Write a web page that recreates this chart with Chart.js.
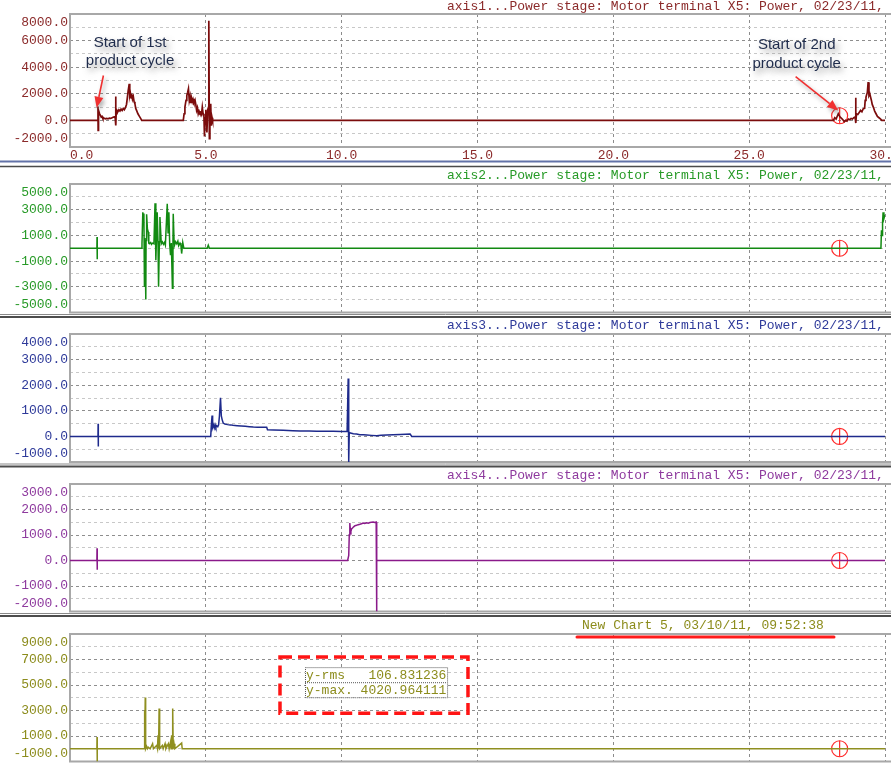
<!DOCTYPE html>
<html><head><meta charset="utf-8">
<script src="https://cdn.jsdelivr.net/npm/chart.js@4/dist/chart.umd.min.js"></script>
<style>
html,body{margin:0;padding:0;background:#fff;width:891px;height:764px;overflow:hidden;}
canvas{position:absolute;left:0;}
</style></head><body>
<canvas id="c1" width="891" height="170" style="top:0px"></canvas>
<canvas id="c2" width="891" height="148" style="top:170px"></canvas>
<canvas id="c3" width="891" height="150" style="top:318px"></canvas>
<canvas id="c4" width="891" height="150" style="top:468px"></canvas>
<canvas id="c5" width="891" height="146" style="top:618px"></canvas>
<script>
// ---------------- data ----------------
const xTickValues = [0, 5, 10, 15, 20, 25, 30];
const cursorTime = [28.33];

const axis1Samples = [[0,0],[1.02,0],[1.03,1050],[1.035,-750],[1.04,0],[1.06,750],[1.09,500],[1.12,375],[1.15,250],[1.18,300],[1.21,150],[1.25,175],[1.3,125],[1.35,150],[1.4,125],[1.45,175],[1.5,150],[1.55,200],[1.6,250],[1.66,275],[1.68,1800],[1.69,-375],[1.7,500],[1.73,750],[1.76,650],[1.8,800],[1.84,700],[1.88,850],[1.92,750],[1.96,900],[2.0,800],[2.04,950],[2.08,1200],[2.11,1700],[2.14,2200],[2.18,2750],[2.2,1900],[2.22,2100],[2.25,1700],[2.27,2000],[2.3,1600],[2.33,1800],[2.36,1400],[2.39,1250],[2.42,900],[2.45,750],[2.5,500],[2.55,325],[2.6,150],[2.64,0],
 [4.17,0],[4.2,500],[4.23,1000],[4.27,1500],[4.3,1875],[4.33,2100],[4.36,2375],[4.39,1500],[4.42,1800],[4.44,1300],[4.47,1700],[4.5,1400],[4.53,1600],[4.56,1375],[4.6,1550],[4.63,1200],[4.66,750],[4.69,950],[4.72,500],[4.75,700],[4.78,550],[4.81,600],[4.84,450],[4.87,1000],[4.9,500],[4.93,300],[4.95,-1200],[4.97,200],[5.0,800],[5.04,-900],[5.07,800],[5.1,1000],[5.11,7500],[5.13,-1375],[5.15,750],[5.18,1250],[5.2,-400],[5.23,200],[5.25,0],
 [28.1,0],[28.15,200],[28.2,100],[28.25,350],[28.28,500],[28.31,375],[28.35,250],[28.4,150],[28.45,50],[28.5,-100],[28.55,0],[28.6,-50],[28.65,100],[28.7,50],[28.75,150],[28.8,100],[28.85,200],[28.9,250],[28.92,1700],[28.93,-200],[28.95,500],[29.0,450],[29.05,600],[29.1,750],[29.15,650],[29.2,875],[29.25,900],[29.27,1500],[29.3,1750],[29.35,2100],[29.38,2875],[29.41,1875],[29.44,2000],[29.47,1750],[29.5,1500],[29.53,1200],[29.57,1000],[29.62,700],[29.67,500],[29.72,300],[29.78,200],[29.84,100],[29.88,0],[30,0]];

const axis2Samples = [[0,0],[0.99,0],[0.995,880],[1.0,-850],[1.005,0],[2.63,0],[2.65,350],[2.68,2800],[2.70,2500],[2.72,2700],[2.74,-2950],[2.76,800],[2.79,-3980],[2.80,600],[2.82,2650],[2.85,1500],[2.88,1270],[2.90,400],[2.92,350],[2.97,450],[3.0,300],[3.04,400],[3.09,350],[3.13,3500],[3.16,-930],[3.19,1200],[3.21,2800],[3.24,400],[3.26,-3000],[3.29,500],[3.31,2430],[3.36,350],[3.40,500],[3.44,300],[3.48,450],[3.51,250],[3.58,3460],[3.61,1200],[3.64,2800],[3.67,300],[3.70,-540],[3.73,400],[3.77,-3120],[3.79,300],[3.80,2690],[3.83,600],[3.85,250],[3.89,500],[3.93,350],[3.97,550],[4.0,200],[4.05,400],[4.08,300],[4.11,-413],[4.15,450],[4.19,0],[5.05,0],[5.09,230],[5.13,0],[29.85,0],[29.87,1400],[29.89,1000],[29.91,2000],[29.93,2800],[29.96,2300],[30,2600]];

const axis3Samples = [[0,0],[1.03,0],[1.035,490],[1.04,-390],[1.045,0],[5.18,0],[5.2,400],[5.23,813],[5.25,350],[5.28,450],[5.31,330],[5.34,460],[5.37,350],[5.40,420],[5.44,380],[5.47,450],[5.5,787],[5.54,1512],[5.57,800],[5.6,656],[5.64,520],[5.7,480],[5.8,460],[5.9,450],[6.0,433],[6.15,420],[6.3,410],[6.45,394],[6.6,380],[6.75,367],[6.9,360],[7.05,358],[7.24,354],[7.27,262],[7.5,250],[7.85,236],[8.2,225],[8.47,210],[8.8,215],[9.08,205],[9.4,200],[9.69,197],[10.0,195],[10.2,190],[10.24,2257],[10.26,-1000],[10.28,160],[10.32,131],[10.43,105],[10.55,90],[10.67,66],[10.8,60],[10.92,52],[11.1,40],[11.29,26],[11.45,45],[11.66,52],[11.9,65],[12.15,79],[12.35,85],[12.52,92],[12.58,0],[30,0]];

const axis4Samples = [[0,0],[0.99,0],[0.995,484],[1.0,-367],[1.005,0],[10.22,0],[10.26,200],[10.28,1012],[10.30,1472],[10.32,1200],[10.34,1144],[10.37,1250],[10.40,1275],[10.44,1320],[10.49,1367],[10.55,1380],[10.61,1406],[10.67,1420],[10.73,1440],[10.79,1472],[10.85,1450],[10.92,1480],[10.98,1460],[11.04,1490],[11.1,1500],[11.16,1510],[11.22,1490],[11.27,1510],[11.28,-2000],[11.30,0],[30,0]];

const axis5Samples = [[0,0],[0.99,0],[0.995,918],[1.0,-1000],[1.005,0],[2.73,0],[2.74,3018],[2.755,0],[2.77,4020],[2.785,0],[2.82,184],[2.85,0],[2.88,120],[2.95,0],[3.04,394],[3.07,0],[3.19,262],[3.22,0],[3.24,1050],[3.26,0],[3.28,3150],[3.30,0],[3.4,262],[3.43,0],[3.5,394],[3.53,0],[3.62,394],[3.65,0],[3.7,525],[3.72,0],[3.74,1050],[3.76,0],[3.78,3150],[3.80,0],[3.83,394],[3.86,0],[4.11,446],[4.13,0],[30,0]];

const axis1YLabels = [8000, 6000, 4000, 2000, 0, -2000];
const axis2YLabels = [5000, 3000, 1000, -1000, -3000, -5000];
const axis3YLabels = [4000, 3000, 2000, 1000, 0, -1000];
const axis4YLabels = [3000, 2000, 1000, 0, -1000, -2000];
const axis5YLabels = [9000, 7000, 5000, 3000, 1000, -1000];

const cursorValues = [350, 0, 0, 0, 0];
const statLines = ['y-rms   106.831236', 'y-max. 4020.964111'];

// ---------------- drawing ----------------
const MONO = '13px "Liberation Mono", "Courier New", monospace';
const SANS = '15px "Liberation Sans", Arial, sans-serif';

function toXY(s){ return s.map(p => ({x:p[0], y:p[1]})); }

function drawArrow(ctx, x1, y1, x2, y2, color){
  const ang = Math.atan2(y2 - y1, x2 - x1), L = 11, W = 4.5;
  const bx = x2 - L * Math.cos(ang), by = y2 - L * Math.sin(ang);
  ctx.strokeStyle = color; ctx.fillStyle = color; ctx.lineWidth = 1.6;
  ctx.beginPath(); ctx.moveTo(x1, y1); ctx.lineTo(bx, by); ctx.stroke();
  ctx.beginPath(); ctx.moveTo(x2, y2);
  ctx.lineTo(bx + W * Math.sin(ang), by - W * Math.cos(ang));
  ctx.lineTo(bx - W * Math.sin(ang), by + W * Math.cos(ang));
  ctx.closePath(); ctx.fill();
}

function panelPlugin(cfg){
  return {
    id: 'panel' + cfg.name,
    beforeDatasetsDraw(chart){
      const {ctx, chartArea:a, width} = chart;
      ctx.save();
      ctx.strokeStyle = '#a8a8a8'; ctx.lineWidth = 2;
      ctx.beginPath();
      ctx.moveTo(width, a.top); ctx.lineTo(a.left, a.top); ctx.lineTo(a.left, a.bottom); ctx.lineTo(width, a.bottom);
      ctx.stroke();
      ctx.restore();
    },
    afterDraw(chart){
      const {ctx, chartArea:a, width} = chart;
      const ys = chart.scales.y, xs = chart.scales.x;
      ctx.save();
      ctx.font = MONO; ctx.fillStyle = cfg.color;
      ctx.textAlign = 'right'; ctx.textBaseline = 'middle';
      cfg.yLabels.forEach(v => {
        let y = ys.getPixelForValue(v);
        y = Math.min(Math.max(y, a.top + 8.5), a.bottom - 8);
        ctx.fillText(v.toFixed(1), 68, y);
      });
      if (cfg.xLabels){
        ctx.textAlign = 'center';
        xTickValues.forEach(v => {
          const t = v.toFixed(1), w = ctx.measureText(t).width;
          const x = Math.max(xs.getPixelForValue(v), a.left + w / 2);
          ctx.fillText(t, x, a.bottom + 9);
        });
      }
      ctx.textAlign = 'left';
      ctx.fillText(cfg.title, cfg.titleX, cfg.titleY);
      (cfg.separators || []).forEach(s => {
        ctx.strokeStyle = s[1]; ctx.lineWidth = s[2];
        ctx.beginPath(); ctx.moveTo(0, s[0]); ctx.lineTo(width, s[0]); ctx.stroke();
      });
      ctx.restore();
      if (cfg.extra) { ctx.save(); cfg.extra(chart); ctx.restore(); }
    }
  };
}

function makePanel(id, cfg){
  const el = document.getElementById(id);
  const cy = cursorValues[cfg.idx];
  const datasets = [
    {data: toXY(cfg.samples), borderColor: cfg.trace, borderWidth: cfg.lw || 1.5, pointRadius: 0, tension: 0, fill: false},
    {data: [{x: cursorTime[0], y: cy}], showLine: false, pointStyle: 'circle', pointRadius: 8, borderColor: '#ff2a2a', backgroundColor: 'rgba(0,0,0,0)', borderWidth: 1.2},
    {data: [{x: cursorTime[0], y: cy}], showLine: false, pointStyle: 'line', pointRotation: 90, pointRadius: 8, borderColor: '#ff2a2a', borderWidth: 1.2}
  ];
  return new Chart(el, {
    type: 'line',
    data: {datasets},
    options: {
      responsive: false, animation: false, devicePixelRatio: 1, events: [],
      layout: {autoPadding: false, padding: {top: cfg.padTop, bottom: cfg.padBottom, left: 0, right: 6}},
      plugins: {legend: {display: false}, tooltip: {enabled: false}},
      scales: {
        x: {type: 'linear', min: 0, max: 30,
            ticks: {display: false, stepSize: 5},
            grid: {color: '#8c8c8c', lineWidth: 1, drawTicks: false},
            border: {display: false, dash: [3, 3]},
            afterFit(s){ s.height = 0; }},
        y: {type: 'linear', min: cfg.yMin, max: cfg.yMax,
            ticks: {display: false, stepSize: cfg.yStep},
            grid: {color: c => (c.tick && cfg.yLabels.includes(c.tick.value)) ? '#8e8e8e' : '#c8c8c8', lineWidth: 1, drawTicks: false},
            border: {display: false, dash: [3, 3]},
            afterFit(s){ s.width = 70; }}
      }
    },
    plugins: [panelPlugin(cfg)]
  });
}

function drawNote(chart, lines, t, v1, v2){
  const {ctx} = chart; const xs = chart.scales.x, ys = chart.scales.y;
  ctx.font = SANS; ctx.textAlign = 'center'; ctx.textBaseline = 'middle';
  ctx.shadowColor = 'rgba(70,70,70,0.55)'; ctx.shadowBlur = 6; ctx.shadowOffsetX = 3; ctx.shadowOffsetY = 4;
  ctx.fillStyle = '#1f2c4c';
  ctx.fillText(lines[0], xs.getPixelForValue(t), ys.getPixelForValue(v1));
  ctx.fillText(lines[1], xs.getPixelForValue(t), ys.getPixelForValue(v2));
}

function extra1(chart){
  const {ctx} = chart; const xs = chart.scales.x, ys = chart.scales.y;
  drawNote(chart, ['Start of 1st', 'product cycle'], 2.21, 5800, 4450);
  drawNote(chart, ['Start of 2nd', 'product cycle'], 26.75, 5680, 4250);
  ctx.shadowColor = 'rgba(70,70,70,0.45)'; ctx.shadowBlur = 4; ctx.shadowOffsetX = 2; ctx.shadowOffsetY = 3;
  drawArrow(ctx, xs.getPixelForValue(1.23), ys.getPixelForValue(3375), xs.getPixelForValue(0.98), ys.getPixelForValue(950), '#f03030');
  drawArrow(ctx, xs.getPixelForValue(26.71), ys.getPixelForValue(3300), xs.getPixelForValue(28.28), ys.getPixelForValue(750), '#f03030');
}

function extra5(chart){
  const {ctx, chartArea:a} = chart; const xs = chart.scales.x, ys = chart.scales.y;
  // title underline
  ctx.strokeStyle = '#ff1a1a'; ctx.lineWidth = 3; ctx.lineCap = 'round';
  ctx.beginPath(); ctx.moveTo(577, a.top + 3); ctx.lineTo(834, a.top + 3); ctx.stroke();
  // statistics readout
  const bx1 = xs.getPixelForValue(8.65), bx2 = xs.getPixelForValue(13.88);
  const by1 = ys.getPixelForValue(6400), by2 = ys.getPixelForValue(4040);
  ctx.lineCap = 'butt';
  ctx.fillStyle = '#ffffff'; ctx.fillRect(bx1, by1, bx2 - bx1, by2 - by1);
  ctx.strokeStyle = '#555'; ctx.lineWidth = 1; ctx.setLineDash([1, 1]);
  ctx.strokeRect(bx1 + 0.5, by1 + 0.5, bx2 - bx1, by2 - by1);
  const mid = (by1 + by2) / 2;
  ctx.beginPath(); ctx.moveTo(bx1, mid + 0.5); ctx.lineTo(bx2, mid + 0.5); ctx.stroke();
  ctx.setLineDash([]);
  ctx.font = MONO; ctx.fillStyle = '#8c8c1c'; ctx.textAlign = 'left'; ctx.textBaseline = 'middle';
  ctx.fillText(statLines[0], bx1 + 1, (by1 + mid) / 2 + 1);
  ctx.fillText(statLines[1], bx1 + 1, (mid + by2) / 2 + 1);
  // red dashed highlight
  const rx1 = xs.getPixelForValue(7.73), rx2 = xs.getPixelForValue(14.65);
  const ry1 = ys.getPixelForValue(7190), ry2 = ys.getPixelForValue(2780);
  ctx.strokeStyle = '#ff1414'; ctx.lineWidth = 3.5; ctx.setLineDash([12, 6]);
  ctx.strokeRect(rx1, ry1, rx2 - rx1, ry2 - ry1);
}

const titleTail = 'Power stage: Motor terminal X5: Power, 02/23/11,';

makePanel('c1', {name: 1, idx: 0, samples: axis1Samples, trace: '#7b0c0c', lw: 1.7, color: '#8b2a2a',
  yMin: -2000, yMax: 8000, yStep: 1000, yLabels: axis1YLabels, padTop: 14, padBottom: 23,
  xLabels: true, title: 'axis1...' + titleTail, titleX: 447, titleY: 7,
  separators: [[161.5, '#6272a8', 2], [166.5, '#4a4a4a', 1.5]], extra: extra1});
makePanel('c2', {name: 2, idx: 1, samples: axis2Samples, trace: '#128a12', color: '#279a27',
  yMin: -5000, yMax: 5000, yStep: 1000, yLabels: axis2YLabels, padTop: 14, padBottom: 5.5,
  title: 'axis2...' + titleTail, titleX: 447, titleY: 6,
  separators: [[144.5, '#8a8a8a', 1], [147, '#4d4d4d', 2]]});
makePanel('c3', {name: 3, idx: 2, samples: axis3Samples, trace: '#1e2a8c', color: '#2e3a9a',
  yMin: -1000, yMax: 4000, yStep: 500, yLabels: axis3YLabels, padTop: 16, padBottom: 6,
  title: 'axis3...' + titleTail, titleX: 447, titleY: 8,
  separators: [[146, '#8a8a8a', 1], [148.5, '#4d4d4d', 2]]});
makePanel('c4', {name: 4, idx: 3, samples: axis4Samples, trace: '#8a1a8a', color: '#8e3a9e',
  yMin: -2000, yMax: 3000, yStep: 500, yLabels: axis4YLabels, padTop: 16, padBottom: 6.5,
  title: 'axis4...' + titleTail, titleX: 447, titleY: 8,
  separators: [[145.5, '#8a8a8a', 1], [148, '#4d4d4d', 2]]});
makePanel('c5', {name: 5, idx: 4, samples: axis5Samples, trace: '#8f8f20', color: '#8c8c1c',
  yMin: -1000, yMax: 9000, yStep: 1000, yLabels: axis5YLabels, padTop: 16, padBottom: 2.5,
  title: 'New Chart 5, 03/10/11, 09:52:38', titleX: 582, titleY: 8, extra: extra5});
</script>
</body></html>
